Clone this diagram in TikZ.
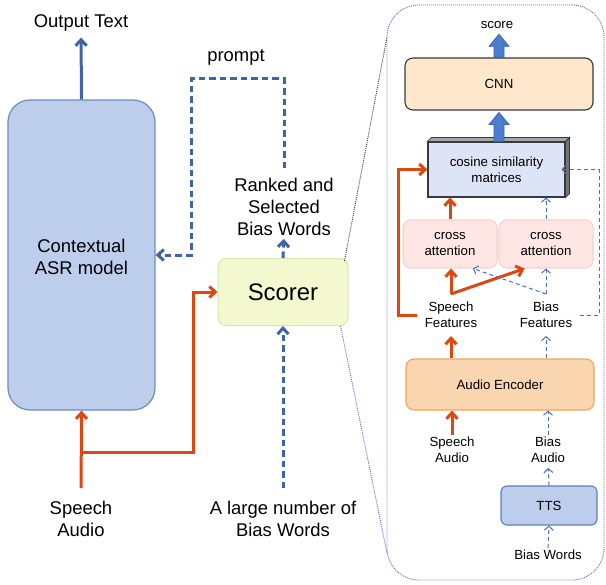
\documentclass[tikz,border=0pt]{standalone}
\usepackage{fontspec}
\setmainfont{Liberation Sans}
\usetikzlibrary{arrows.meta,calc}
\definecolor{asrfill}{HTML}{BDCDEC}
\definecolor{asrdraw}{HTML}{6C8EBF}
\definecolor{bline}{HTML}{3F64A8}
\definecolor{bline2}{HTML}{4A70B6}
\definecolor{orng}{HTML}{DC4712}
\definecolor{scfill}{HTML}{F4F8CE}
\definecolor{scdraw}{HTML}{D2E7B2}
\definecolor{cnnfill}{HTML}{FFE7CC}
\definecolor{darkline}{HTML}{36393D}
\definecolor{cosfill}{HTML}{DCE4F5}
\definecolor{cafill}{HTML}{FDE6E4}
\definecolor{cadraw}{HTML}{F8CFCB}
\definecolor{encfill}{HTML}{FAD6B0}
\definecolor{encdraw}{HTML}{F2A45A}
\definecolor{ttsdraw}{HTML}{5A7FC0}
\definecolor{fatfill}{HTML}{4A7ECF}
\definecolor{fatdraw}{HTML}{3A62A8}
\definecolor{panelc}{HTML}{5577BB}
\begin{document}
\begin{tikzpicture}[x=1bp,y=-1bp,
  bigtxt/.style={font=\fontsize{18.5}{22}\selectfont, align=center, inner sep=0pt},
  smalltxt/.style={font=\fontsize{13.3}{16}\selectfont, align=center, inner sep=2bp},
  boxbase/.style={line width=1.1bp, smalltxt},
  oarr/.style={draw=orng, line width=3bp, -{Straight Barb[length=6bp,width=11bp]}},
  barr/.style={draw=bline, line width=3bp, -{Straight Barb[length=6bp,width=11bp]}},
  bdash/.style={barr, dash pattern=on 6.5bp off 4bp},
  tdash/.style={draw=bline2, line width=1bp, dash pattern=on 4bp off 3bp, -{Straight Barb[length=4bp,width=9bp]}},
  fat/.style={fill=fatfill, draw=fatdraw, line width=0.8bp},
  dots/.style={dash pattern=on 1bp off 1bp, line width=0.9bp}
]
\useasboundingbox (0,0) rectangle (606,585);

% ---------- left part ----------
\node[draw=asrdraw, fill=asrfill, line width=1.2bp, rounded corners=22bp,
      minimum width=147bp, minimum height=310bp, bigtxt] (asr) at (81.5,255) {};
\node[bigtxt] (asrlabel) at (81.5,257) {Contextual\\ASR model};
\node[draw=scdraw, fill=scfill, line width=1bp, rounded corners=8bp,
      minimum width=130bp, minimum height=67bp, font=\fontsize{24}{28}\selectfont] (scorer) at (283,292) {Scorer};

\node[bigtxt] (out) at (81,23) {Output Text};
\node[bigtxt] (prompt) at (236,57) {prompt};
\node[bigtxt] (ranked) at (284,207) {Ranked and\\Selected\\Bias Words};
\node[bigtxt] (sa) at (81,519) {Speech\\Audio};
\node[bigtxt] (lb) at (283,519) {A large number of\\Bias Words};

\coordinate (pk) at (191,79);
\coordinate (j1) at (81,452);
\coordinate (jx) at (193,452);

\draw[barr, shorten >=6bp] (asr.north) -- (out.south);
\draw[bdash, shorten <=10bp] (ranked.north) |- (pk) |- (asr.east);
\draw[bdash, shorten >=3bp] (scorer.north) -- (ranked.south);
\draw[oarr, shorten <=13bp] (sa.north) -- (asr.south);
\draw[oarr] (j1) -- (jx) |- (scorer.west);
\draw[bdash, shorten <=13bp] (lb.north) -- (scorer.south);

% ---------- right panel ----------
\node[draw=panelc, dots, rounded corners=32bp, minimum width=217bp, minimum height=575bp] (panel) at (495.5,292.5) {};
\coordinate (pt) at (387,37);
\coordinate (pb) at (387,553);
\draw[dots, draw=black!75] ($(scorer.north east)+(-4,3)$) -- (pt);
\draw[dots, draw=panelc] ($(scorer.south east)+(-8,0)$) -- (pb);

\node[draw=darkline, fill=cnnfill, boxbase, rounded corners=8bp, minimum width=188bp, minimum height=52bp] (cnn) at (499,84) {CNN};
\node[smalltxt] (score) at (497,25) {score};

\node[draw=darkline, fill=cosfill, boxbase, minimum width=137bp, minimum height=55bp] (cos) at (496.5,169.5) {cosine similarity\\matrices};
\filldraw[fill=black!35, draw=darkline, line width=0.8bp] (cos.north west) -- ++(4,-4) -- ($(cos.north east)+(4,-4)$) -- (cos.north east) -- cycle;
\filldraw[fill=black!55, draw=darkline, line width=0.8bp] (cos.north east) -- ++(4,-4) -- ($(cos.south east)+(4,-4)$) -- (cos.south east) -- cycle;

\node[draw=cadraw, fill=cafill, boxbase, rounded corners=8bp, minimum width=94bp, minimum height=48bp] (caL) at (450,244) {cross\\attention};
\node[draw=cadraw, fill=cafill, boxbase, rounded corners=8bp, minimum width=94bp, minimum height=48bp] (caR) at (546,244) {cross\\attention};

\node[smalltxt, inner sep=8bp] (sf) at (451,315) {Speech\\Features};
\node[smalltxt, inner sep=8bp] (bf) at (546,315) {Bias\\Features};

\node[draw=encdraw, fill=encfill, boxbase, rounded corners=8bp, minimum width=188bp, minimum height=51bp] (enc) at (500,384.5) {Audio Encoder};

\node[smalltxt] (sa2) at (452,450) {Speech\\Audio};
\node[smalltxt] (ba2) at (548,450) {Bias\\Audio};
\node[draw=ttsdraw, fill=asrfill, boxbase, rounded corners=6bp, minimum width=96bp, minimum height=39bp] (tts) at (549,505.5) {TTS};
\node[smalltxt] (bw) at (548,555) {Bias Words};

% fat arrows
\draw[fat] let \p1=(cnn.north), \p2=($(score.south)+(0,3.5)$) in
  (\x1-5bp,\y1) -- (\x1-5bp,\y2-12bp) -- (\x1-10bp,\y2-12bp) -- (\x1,\y2) -- (\x1+10bp,\y2-12bp) -- (\x1+5bp,\y2-12bp) -- (\x1+5bp,\y1) -- cycle;
\draw[fat] let \p1=(cnn.south |- cos.north), \p2=($(cnn.south)+(0,2)$) in
  (\x1-5bp,\y1) -- (\x1-5bp,\y2-12bp) -- (\x1-10bp,\y2-12bp) -- (\x1,\y2) -- (\x1+10bp,\y2-12bp) -- (\x1+5bp,\y2-12bp) -- (\x1+5bp,\y1) -- cycle;

\coordinate (oL) at (398,0);
\coordinate (oR) at (599,0);

% cross attention -> cosine
\draw[oarr] (caL.north) -- (caL.north |- cos.south);
\draw[tdash] (caR.north) -- (caR.north |- cos.south);

% features -> cross attention
\draw[oarr] (sf.north) -- (sf.north |- caL.south);
\draw[oarr] (sf.north) -- (caR.229);
\draw[tdash] (bf.north) -- (bf.north |- caR.south);
\draw[tdash] (bf.north) -- (caL.313);

% features -> cosine loops
\draw[oarr] (sf.west) -- (sf.west -| oL) |- (cos.west);
\draw[tdash, shorten >=-4bp] (bf.east) -- (bf.east -| oR) |- (cos.east);

% encoder -> features
\draw[oarr] (enc.north -| sf.south) -- (sf.south);
\draw[tdash] (enc.north -| bf.south) -- (bf.south);

% inputs -> encoder
\draw[oarr] (sa2.north) -- (sa2.north |- enc.south);
\draw[tdash] (ba2.north) -- (ba2.north |- enc.south);
\draw[tdash, shorten >=3bp] (tts.north) -- (ba2.south);
\draw[tdash] (bw.north) -- (tts.south);
\end{tikzpicture}
\end{document}
